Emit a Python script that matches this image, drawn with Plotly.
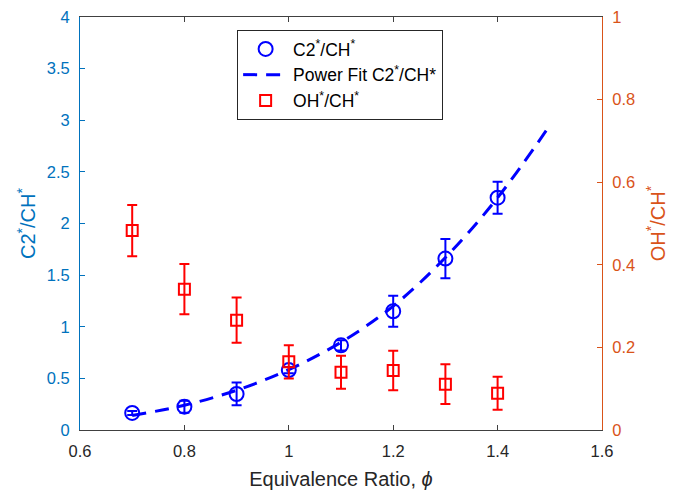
import plotly.graph_objects as go

# Data
phi = [0.7, 0.8, 0.9, 1.0, 1.1, 1.2, 1.3, 1.4]
c2_ch = [0.165, 0.226, 0.349, 0.58, 0.82, 1.15, 1.66, 2.25]
c2_ch_err = [0.02, 0.058, 0.11, 0.03, 0.05, 0.15, 0.19, 0.155]
oh_ch = [0.483, 0.341, 0.266, 0.165, 0.140, 0.144, 0.111, 0.089]
oh_ch_err = [0.062, 0.061, 0.055, 0.040, 0.040, 0.048, 0.048, 0.040]

fit_phi = [0.7, 0.8, 0.9, 1.0, 1.1, 1.2, 1.3, 1.4, 1.5]
fit_c2_ch = [0.14, 0.24, 0.385, 0.585, 0.85, 1.2, 1.67, 2.25, 2.95]

BLUE_AX = "#0072BD"
ORANGE_AX = "#D95319"
FONT = "Liberation Sans, Arial, sans-serif"

fig = go.Figure()

fig.add_trace(go.Scatter(
    x=phi, y=c2_ch, mode="markers", name="C2<sup>*</sup>/CH<sup>*</sup>",
    marker=dict(symbol="circle-open", size=14, color="#0000FF", line=dict(width=2, color="#0000FF")),
    error_y=dict(type="data", array=c2_ch_err, visible=True, color="#0000FF", thickness=2, width=5),
    yaxis="y",
))
fig.add_trace(go.Scatter(
    x=fit_phi, y=fit_c2_ch, mode="lines", name="Power Fit C2<sup>*</sup>/CH*",
    line=dict(color="#0000FF", width=3, dash="14px,9px", shape="spline"),
    yaxis="y",
))
fig.add_trace(go.Scatter(
    x=phi, y=oh_ch, mode="markers", name="OH<sup>*</sup>/CH<sup>*</sup>",
    marker=dict(symbol="square-open", size=11, color="#FF0000", line=dict(width=2, color="#FF0000")),
    error_y=dict(type="data", array=oh_ch_err, visible=True, color="#FF0000", thickness=2, width=5),
    yaxis="y2",
))

fig.update_layout(
    width=673, height=496,
    margin=dict(l=80, r=71, t=17, b=66, autoexpand=False),
    paper_bgcolor="white", plot_bgcolor="white",
    font=dict(family=FONT, size=16, color="#262626"),
    showlegend=True,
    legend=dict(
        x=0.301, y=0.9685, xanchor="left", yanchor="top",
        bgcolor="white", bordercolor="#262626", borderwidth=1,
        font=dict(family=FONT, size=17.5, color="#000000"),
        itemwidth=45,
    ),
    xaxis=dict(
        range=[0.6, 1.6], tickvals=[0.6, 0.8, 1.0, 1.2, 1.4, 1.6],
        ticktext=["0.6", "0.8", "1", "1.2", "1.4", "1.6"],
        ticks="inside", ticklen=5, tickcolor="#404040",
        showline=True, linecolor="#404040", linewidth=1, mirror="ticks",
        showgrid=False, zeroline=False, automargin=False,
        tickfont=dict(size=16.5, color="#262626"),
        ticklabelstandoff=6,
        title=dict(text="Equivalence Ratio, <i>ϕ</i>", font=dict(size=20, color="#262626"), standoff=13),
    ),
    yaxis=dict(
        range=[0, 4], tickvals=[0, 0.5, 1, 1.5, 2, 2.5, 3, 3.5, 4],
        ticktext=["0", "0.5", "1", "1.5", "2", "2.5", "3", "3.5", "4"],
        ticks="inside", ticklen=5, tickcolor=BLUE_AX,
        showline=True, linecolor=BLUE_AX, linewidth=1,
        showgrid=False, zeroline=False, automargin=False,
        tickfont=dict(size=16.5, color=BLUE_AX),
        ticklabelstandoff=6,
        title=dict(text="C2<sup>*</sup>/CH<sup>*</sup>", font=dict(size=20, color=BLUE_AX), standoff=5),
    ),
    yaxis2=dict(
        range=[0, 1], tickvals=[0, 0.2, 0.4, 0.6, 0.8, 1.0],
        ticktext=["0", "0.2", "0.4", "0.6", "0.8", "1"],
        overlaying="y", side="right", anchor="x",
        ticks="inside", ticklen=5, tickcolor=ORANGE_AX,
        showline=True, linecolor=ORANGE_AX, linewidth=1,
        showgrid=False, zeroline=False, automargin=False,
        tickfont=dict(size=16.5, color=ORANGE_AX),
        ticklabelstandoff=6,
        title=dict(text="OH<sup>*</sup>/CH<sup>*</sup>", font=dict(size=20, color=ORANGE_AX), standoff=16),
    ),
)

fig.write_html("out.html", post_script="document.body.style.margin='0';",
               config={"displayModeBar": False})
